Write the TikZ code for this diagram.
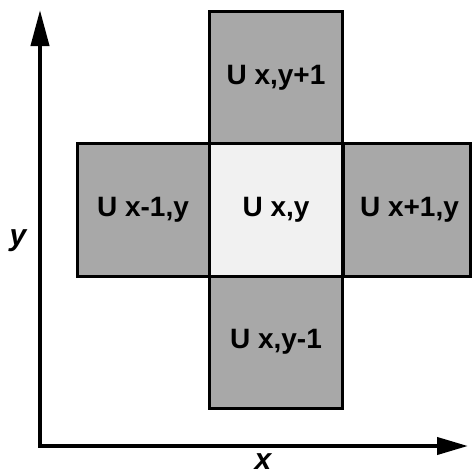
\documentclass[tikz,border=0pt]{standalone}
\usepackage{fontspec}
\setmainfont{Liberation Sans}
\usetikzlibrary{arrows.meta}
\tikzset{
  cell/.style={draw, line width=3pt, fill=cellgray, inner sep=0pt, outer sep=0pt,
    minimum width=133pt, minimum height=133pt,
    font=\fontsize{28}{32}\selectfont\bfseries},
  axislabel/.style={font=\fontsize{30}{34}\selectfont\bfseries\itshape}
}
\definecolor{cellgray}{HTML}{A8A8A8}
\definecolor{cellwhite}{HTML}{F1F1F1}
\begin{document}
\begin{tikzpicture}[x=1pt, y=-1pt]
                \useasboundingbox (0,0) rectangle (472,475);
                \node[cell] (top) at (276,77.5) {U x,y+1};
                \node[cell] (bottom) at (276,342) {U x,y-1};
                \node[cell, minimum width=132pt] (left) at (143,210) {U x-1,y};
                \node[cell, minimum width=127pt] (right) at (406.5,210) {\hspace{6pt}U x+1,y};
                \node[cell, fill=cellwhite] (center) at (276,210) {U x,y};

                \coordinate (origin) at (40,446);
                \coordinate (ytip) at (40,10);
                \coordinate (xtip) at (468,446);
                \draw[line width=4pt, {Triangle[length=36pt,width=18pt]}-{Triangle[length=31pt,width=17pt]}]
                    (ytip) -- (origin) -- (xtip);

                \node[axislabel] (ylabel) at (18,241) {y};
                \node[axislabel] (xlabel) at (263,462) {x};
            \end{tikzpicture}
\end{document}
